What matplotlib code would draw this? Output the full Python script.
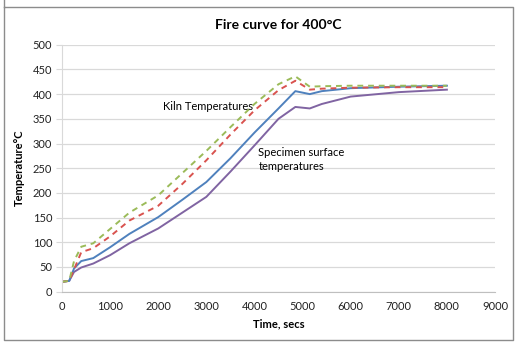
import matplotlib
matplotlib.use('Agg')
import matplotlib.pyplot as plt
from matplotlib.lines import Line2D
import numpy as np

plt.rcParams['font.family'] = ['Lato', 'DejaVu Sans']

# time in seconds
time_s = [0, 150, 250, 400, 650, 1000, 1400, 2000, 2500, 3000, 3500, 4000, 4500, 4850, 5150, 5400, 6000, 7000, 8000]

# kiln temperatures (dashed)
kiln_green = [20, 22, 62, 91, 98, 127, 160, 195, 240, 285, 333, 380, 420, 436, 415, 416, 417, 417, 417]
kiln_red = [20, 22, 45, 80, 88, 112, 144, 174, 218, 266, 318, 367, 408, 427, 409, 411, 413, 414, 414]

# specimen surface temperatures (solid)
surf_blue = [20, 22, 47, 62, 68, 90, 117, 151, 186, 222, 270, 322, 371, 406, 400, 406, 412, 415, 417]
surf_purple = [20, 22, 40, 49, 57, 74, 98, 128, 160, 192, 243, 296, 350, 374, 371, 380, 395, 404, 409]

fig = plt.figure(figsize=(5.18, 3.45), dpi=100)
ax = fig.add_axes([0.1197, 0.1545, 0.8359, 0.7159])

ax.plot(time_s, surf_purple, color='#8064A2', lw=1.4)
ax.plot(time_s, surf_blue, color='#4F81BD', lw=1.4)
ax.plot(time_s, kiln_red, color='#D9534F', lw=1.4, ls=(0, (3, 2.5)))
ax.plot(time_s, kiln_green, color='#9BBB59', lw=1.4, ls=(0, (3, 2.5)))

ax.set_xlim(0, 9000)
ax.set_ylim(0, 500)
ax.set_xticks(np.arange(0, 9001, 1000))
ax.set_yticks(np.arange(0, 501, 50))
ax.grid(axis='y', color='#D9D9D9', lw=0.9)
ax.set_axisbelow(True)
for s in ['top', 'right']:
    ax.spines[s].set_visible(False)
ax.spines['left'].set_color('#D9D9D9')
ax.spines['bottom'].set_color('#BFBFBF')
ax.tick_params(axis='y', length=4, color='#D9D9D9', labelsize=8, pad=3)
ax.tick_params(axis='x', length=0, labelsize=8, pad=7)
for lab in ax.get_yticklabels() + ax.get_xticklabels():
    lab.set_color('#222222')

ax.set_title('Fire curve for 400°C', fontsize=10, fontweight='bold', pad=11)
ax.set_xlabel('Time, secs', fontsize=8, fontweight='bold', labelpad=4)
ax.set_ylabel('Temperature°C', fontsize=8, fontweight='bold', labelpad=6)

ax.text(2100, 374, 'Kiln Temperatures', fontsize=8, va='center', ha='left')
ax.text(4080, 268, 'Specimen surface\ntemperatures', fontsize=8, va='center', ha='left',
        linespacing=1.3)

# outer frame
fig.add_artist(Line2D([4, 513, 513, 4, 4], [338, 338, 5, 5, 345], transform=None,
                      color='#8C8C8C', lw=1.0))

plt.savefig('out.png', dpi=100)
